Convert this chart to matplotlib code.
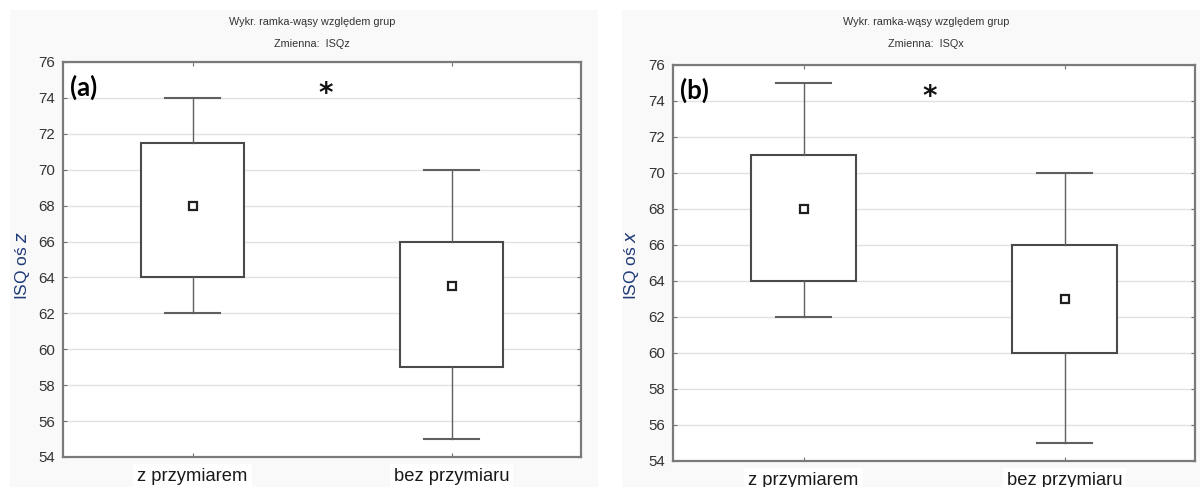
import matplotlib
matplotlib.use("Agg")
import matplotlib.pyplot as plt
from matplotlib.patches import Rectangle

plt.rcParams['font.family'] = ['Liberation Sans', 'DejaVu Sans']

# Groups and box-plot statistics for each panel
groups = ["z przymiarem", "bez przymiaru"]

isqz_whislo = [62, 55]
isqz_q1 = [64, 59]
isqz_q3 = [71.5, 66]
isqz_whishi = [74, 70]
isqz_mid = [68, 63.5]

isqx_whislo = [62, 55]
isqx_q1 = [64, 60]
isqx_q3 = [71, 66]
isqx_whishi = [75, 70]
isqx_mid = [68, 63]

yticks = [54, 56, 58, 60, 62, 64, 66, 68, 70, 72, 74, 76]

W, H = 1200, 487
fig = plt.figure(figsize=(W / 100, H / 100), dpi=100)
fig.patch.set_facecolor("white")


def px_rect(x0, y0, x1, y1):
    """Convert pixel box (top-left origin) to figure fraction [l, b, w, h]."""
    return [x0 / W, (H - y1) / H, (x1 - x0) / W, (y1 - y0) / H]


# light panel backgrounds
for (x0, y0, x1, y1) in [(10, 10, 598, 487), (622, 10, 1200, 487)]:
    l, b, w, h = px_rect(x0, y0, x1, y1)
    fig.add_artist(Rectangle((l, b), w, h, transform=fig.transFigure,
                             facecolor="#f9f9f9", edgecolor="none", zorder=0))


def panel(rect, whislo, q1, q3, whishi, mid, var, axlabel, tag, title_x,
          ylab_x, star_x):
    ax = fig.add_axes(px_rect(*rect))
    ax.set_facecolor("white")
    stats = []
    for i, g in enumerate(groups):
        stats.append(dict(label=g, whislo=whislo[i], q1=q1[i], med=mid[i],
                          q3=q3[i], whishi=whishi[i], mean=mid[i], fliers=[]))
    ax.bxp(stats, positions=[1, 2], widths=0.4, capwidths=0.21,
           patch_artist=True, showmeans=True, showfliers=False,
           boxprops=dict(facecolor="white", edgecolor="#4a4a4a", linewidth=1.5),
           whiskerprops=dict(color="#606060", linewidth=1.0),
           capprops=dict(color="#606060", linewidth=1.5),
           medianprops=dict(linewidth=0),
           meanprops=dict(marker="s", markersize=5.5, markerfacecolor="white",
                          markeredgecolor="#202020", markeredgewidth=1.6),
           zorder=3)
    ax.set_xlim(0.5, 2.5)
    ax.set_ylim(54, 76)
    ax.set_yticks(yticks)
    ax.set_xticks([1, 2])
    ax.set_xticklabels(groups, fontsize=13.2, color="#1a1a1a")
    for lbl in ax.get_xticklabels():
        lbl.set_bbox(dict(facecolor="white", edgecolor="none", pad=3))
    ax.tick_params(axis="y", labelsize=10.8, labelcolor="#333333",
                   direction="in", length=3, right=True, pad=6, color="#707070")
    ax.tick_params(axis="x", direction="in", length=3, top=True, pad=8,
                   color="#707070")
    ax.yaxis.grid(True, color="#e2e2e2", linewidth=1.0, zorder=0)
    ax.set_axisbelow(True)
    for s in ax.spines.values():
        s.set_color("#7a7a7a")
        s.set_linewidth(1.6)

    # significance mark and panel tag
    ax.text(star_x, 74.2, "*", fontsize=20, fontweight="bold",
            family=["DejaVu Sans"], ha="center", va="center",
            color="#111111", zorder=5)
    ax.text(0.013, 0.935, tag, transform=ax.transAxes, fontsize=18.5,
            fontweight="bold", family=["Lato", "DejaVu Sans"],
            ha="left", va="center", color="black", zorder=5)

    fig.text(title_x / W, 1 - 22 / H, "Wykr. ramka-wąsy względem grup",
             fontsize=7.8, color="#333333", ha="center", va="center")
    fig.text(title_x / W, 1 - 44 / H, "Zmienna:  " + var,
             fontsize=7.8, color="#333333", ha="center", va="center")
    fig.text(ylab_x / W, 1 - 265 / H, "ISQ oś $\\it{" + axlabel + "}$",
             rotation=90, fontsize=12.5, color="#1f3a78",
             ha="center", va="center")
    return ax


axa = panel((63, 62, 581, 457), isqz_whislo, isqz_q1, isqz_q3, isqz_whishi,
            isqz_mid, "ISQz", "z", "(a)", 312, 22, 1.515)
axb = panel((673, 65, 1195, 461), isqx_whislo, isqx_q1, isqx_q3, isqx_whishi,
            isqx_mid, "ISQx", "x", "(b)", 926, 632, 1.485)

fig.savefig("out.png", dpi=100)
